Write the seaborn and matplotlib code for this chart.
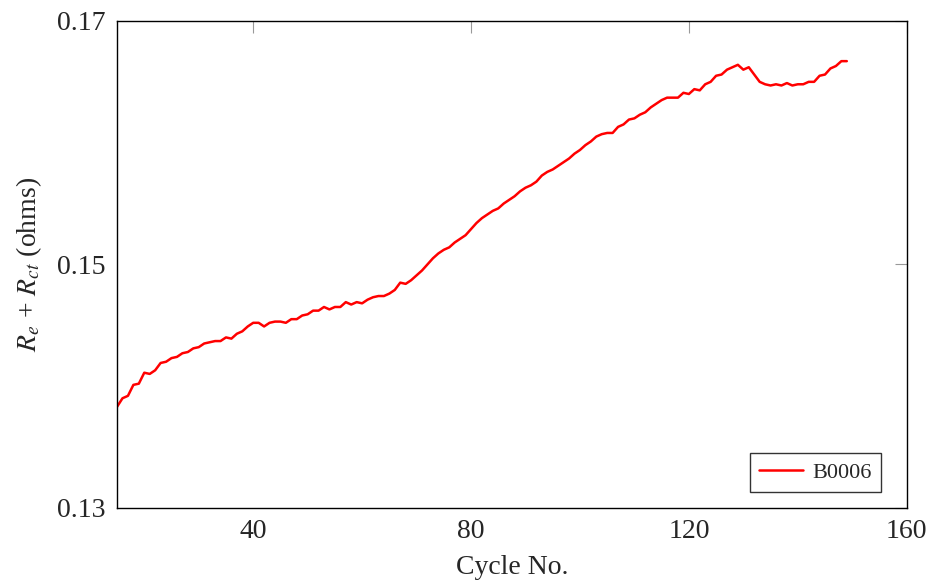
import numpy as np
import pandas as pd
import matplotlib
matplotlib.use("Agg")
import matplotlib.pyplot as plt
import seaborn as sns

# values (cycles 15..149)
cycles = list(range(15, 150))
resistance = [
    0.1383, 0.1390, 0.1392, 0.1401, 0.1402, 0.1411, 0.1410, 0.1413, 0.1419, 0.1420,  # 15-24
    0.1423, 0.1424, 0.1427, 0.1428, 0.1431, 0.1432, 0.1435, 0.1436, 0.1437, 0.1437,  # 25-34
    0.1440, 0.1439, 0.1443, 0.1445, 0.1449, 0.1452, 0.1452, 0.1449, 0.1452, 0.1453,  # 35-44
    0.1453, 0.1452, 0.1455, 0.1455, 0.1458, 0.1459, 0.1462, 0.1462, 0.1465, 0.1463,  # 45-54
    0.1465, 0.1465, 0.1469, 0.1467, 0.1469, 0.1468, 0.1471, 0.1473, 0.1474, 0.1474,  # 55-64
    0.1476, 0.1479, 0.1485, 0.1484, 0.1487, 0.1491, 0.1495, 0.1500, 0.1505, 0.1509,  # 65-74
    0.1512, 0.1514, 0.1518, 0.1521, 0.1524, 0.1529, 0.1534, 0.1538, 0.1541, 0.1544,  # 75-84
    0.1546, 0.1550, 0.1553, 0.1556, 0.1560, 0.1563, 0.1565, 0.1568, 0.1573, 0.1576,  # 85-94
    0.1578, 0.1581, 0.1584, 0.1587, 0.1591, 0.1594, 0.1598, 0.1601, 0.1605, 0.1607,  # 95-104
    0.1608, 0.1608, 0.1613, 0.1615, 0.1619, 0.1620, 0.1623, 0.1625, 0.1629, 0.1632,  # 105-114
    0.1635, 0.1637, 0.1637, 0.1637, 0.1641, 0.1640, 0.1644, 0.1643, 0.1648, 0.1650,  # 115-124
    0.1655, 0.1656, 0.1660, 0.1662, 0.1664, 0.1660, 0.1662, 0.1656, 0.1650, 0.1648,  # 125-134
    0.1647, 0.1648, 0.1647, 0.1649, 0.1647, 0.1648, 0.1648, 0.1650, 0.1650, 0.1655,  # 135-144
    0.1656, 0.1661, 0.1663, 0.1667, 0.1667,                                          # 145-149
]
battery = "B0006"

x_ticks = [40, 80, 120, 160]
y_ticks = [0.13, 0.15, 0.17]
y_tick_labels = ["0.13", "0.15", "0.17"]

df = pd.DataFrame({"cycle": cycles, "r": resistance, "battery": battery})

sns.set_style("white")
plt.rcParams['font.family'] = ['Liberation Serif', 'DejaVu Serif']
plt.rcParams['mathtext.fontset'] = 'stix'

fig = plt.figure(figsize=(9.29, 5.83), dpi=100)
ax = fig.add_axes([0.126, 0.129, 0.850, 0.835])

sns.lineplot(data=df, x="cycle", y="r", hue="battery", palette=["red"],
             linewidth=1.8, ax=ax)

ax.set_xlim(15, 160)
ax.set_ylim(0.13, 0.17)
ax.set_xticks(x_ticks)
ax.set_yticks(y_ticks)
ax.set_yticklabels(y_tick_labels)
ax.tick_params(direction='in', length=8.5, width=0.8, color='#999999',
               top=True, right=True, labelsize=20, pad=8)

for sp in ax.spines.values():
    sp.set_color('black')
    sp.set_linewidth(1.0)

ax.set_xlabel("Cycle No.", fontsize=20, labelpad=8)
ax.set_ylabel(r"$R_e$ + $R_{ct}$ (ohms)", fontsize=20, labelpad=10)

leg = ax.legend(loc='lower right', fontsize=16, frameon=True, fancybox=False,
                edgecolor='black', borderpad=0.4, handlelength=2.0,
                handletextpad=0.4, borderaxespad=0,
                bbox_to_anchor=(0.967, 0.033))
leg.get_frame().set_linewidth(1.0)
leg.set_title(None)

plt.savefig("out.png", dpi=100)
